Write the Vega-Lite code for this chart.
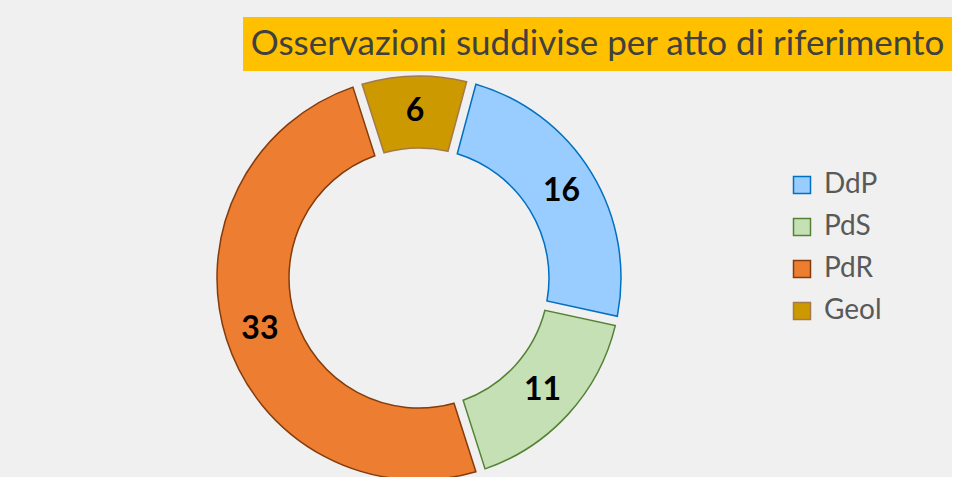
{
  "$schema": "https://vega.github.io/schema/vega-lite/v6.json",
  "background": "#F0F0F0",
  "padding": {"top": 17, "left": 0, "right": 0, "bottom": 0},
  "spacing": 0,
  "config": {
    "view": {"stroke": null},
    "concat": {"spacing": 0},
    "legend": {
      "orient": "none",
      "legendX": 788,
      "legendY": 154,
      "title": null,
      "padding": 0,
      "symbolType": "square",
      "symbolSize": 289,
      "symbolStrokeWidth": 1.5,
      "labelFont": "Lato",
      "labelFontSize": 28,
      "labelColor": "#595959",
      "labelOffset": 8,
      "rowPadding": 14,
      "labelLimit": 200
    }
  },
  "vconcat": [
    {
      "hconcat": [
        {
          "width": 243,
          "height": 54,
          "data": {"values": [{"t": ""}]},
          "mark": {"type": "text"},
          "encoding": {"text": {"field": "t", "type": "nominal"}}
        },
        {
          "width": 709,
          "height": 54,
          "view": {"fill": "#FFC000", "stroke": null},
          "data": {"values": [{"t": "Osservazioni  suddivise per atto di riferimento"}]},
          "mark": {"type": "text", "font": "Lato", "fontSize": 35, "color": "#404040", "align": "center", "baseline": "middle"},
          "encoding": {"text": {"field": "t", "type": "nominal"}}
        }
      ],
      "spacing": 0
    },
    {
      "width": 838,
      "height": 414,
      "data": {
        "values": [
          {"atto": "DdP", "n": 16, "k": 1},
          {"atto": "PdS", "n": 11, "k": 2},
          {"atto": "PdR", "n": 33, "k": 3},
          {"atto": "Geol", "n": 6, "k": 4}
        ]
      },
      "encoding": {
        "theta": {"field": "n", "type": "quantitative", "stack": true, "scale": {"range": [0.2618, 6.545]}},
        "order": {"field": "k", "type": "quantitative"}
      },
      "layer": [
        {
          "mark": {"type": "arc", "innerRadius": 130, "outerRadius": 202, "padAngle": 0.04, "strokeWidth": 1.5},
          "encoding": {
            "fill": {
              "field": "atto", "type": "nominal",
              "scale": {"domain": ["DdP", "PdS", "PdR", "Geol"], "range": ["#99CCFF", "#C5E0B4", "#ED7D31", "#CC9900"]}
            },
            "stroke": {
              "field": "atto", "type": "nominal",
              "scale": {"domain": ["DdP", "PdS", "PdR", "Geol"], "range": ["#0070C0", "#548235", "#843C0C", "#A57A4B"]}
            }
          }
        },
        {
          "mark": {"type": "text", "radius": 167, "font": "Lato", "fontSize": 32, "fontWeight": "bold", "color": "#000000"},
          "encoding": {"text": {"field": "n", "type": "quantitative"}}
        }
      ]
    }
  ]
}
